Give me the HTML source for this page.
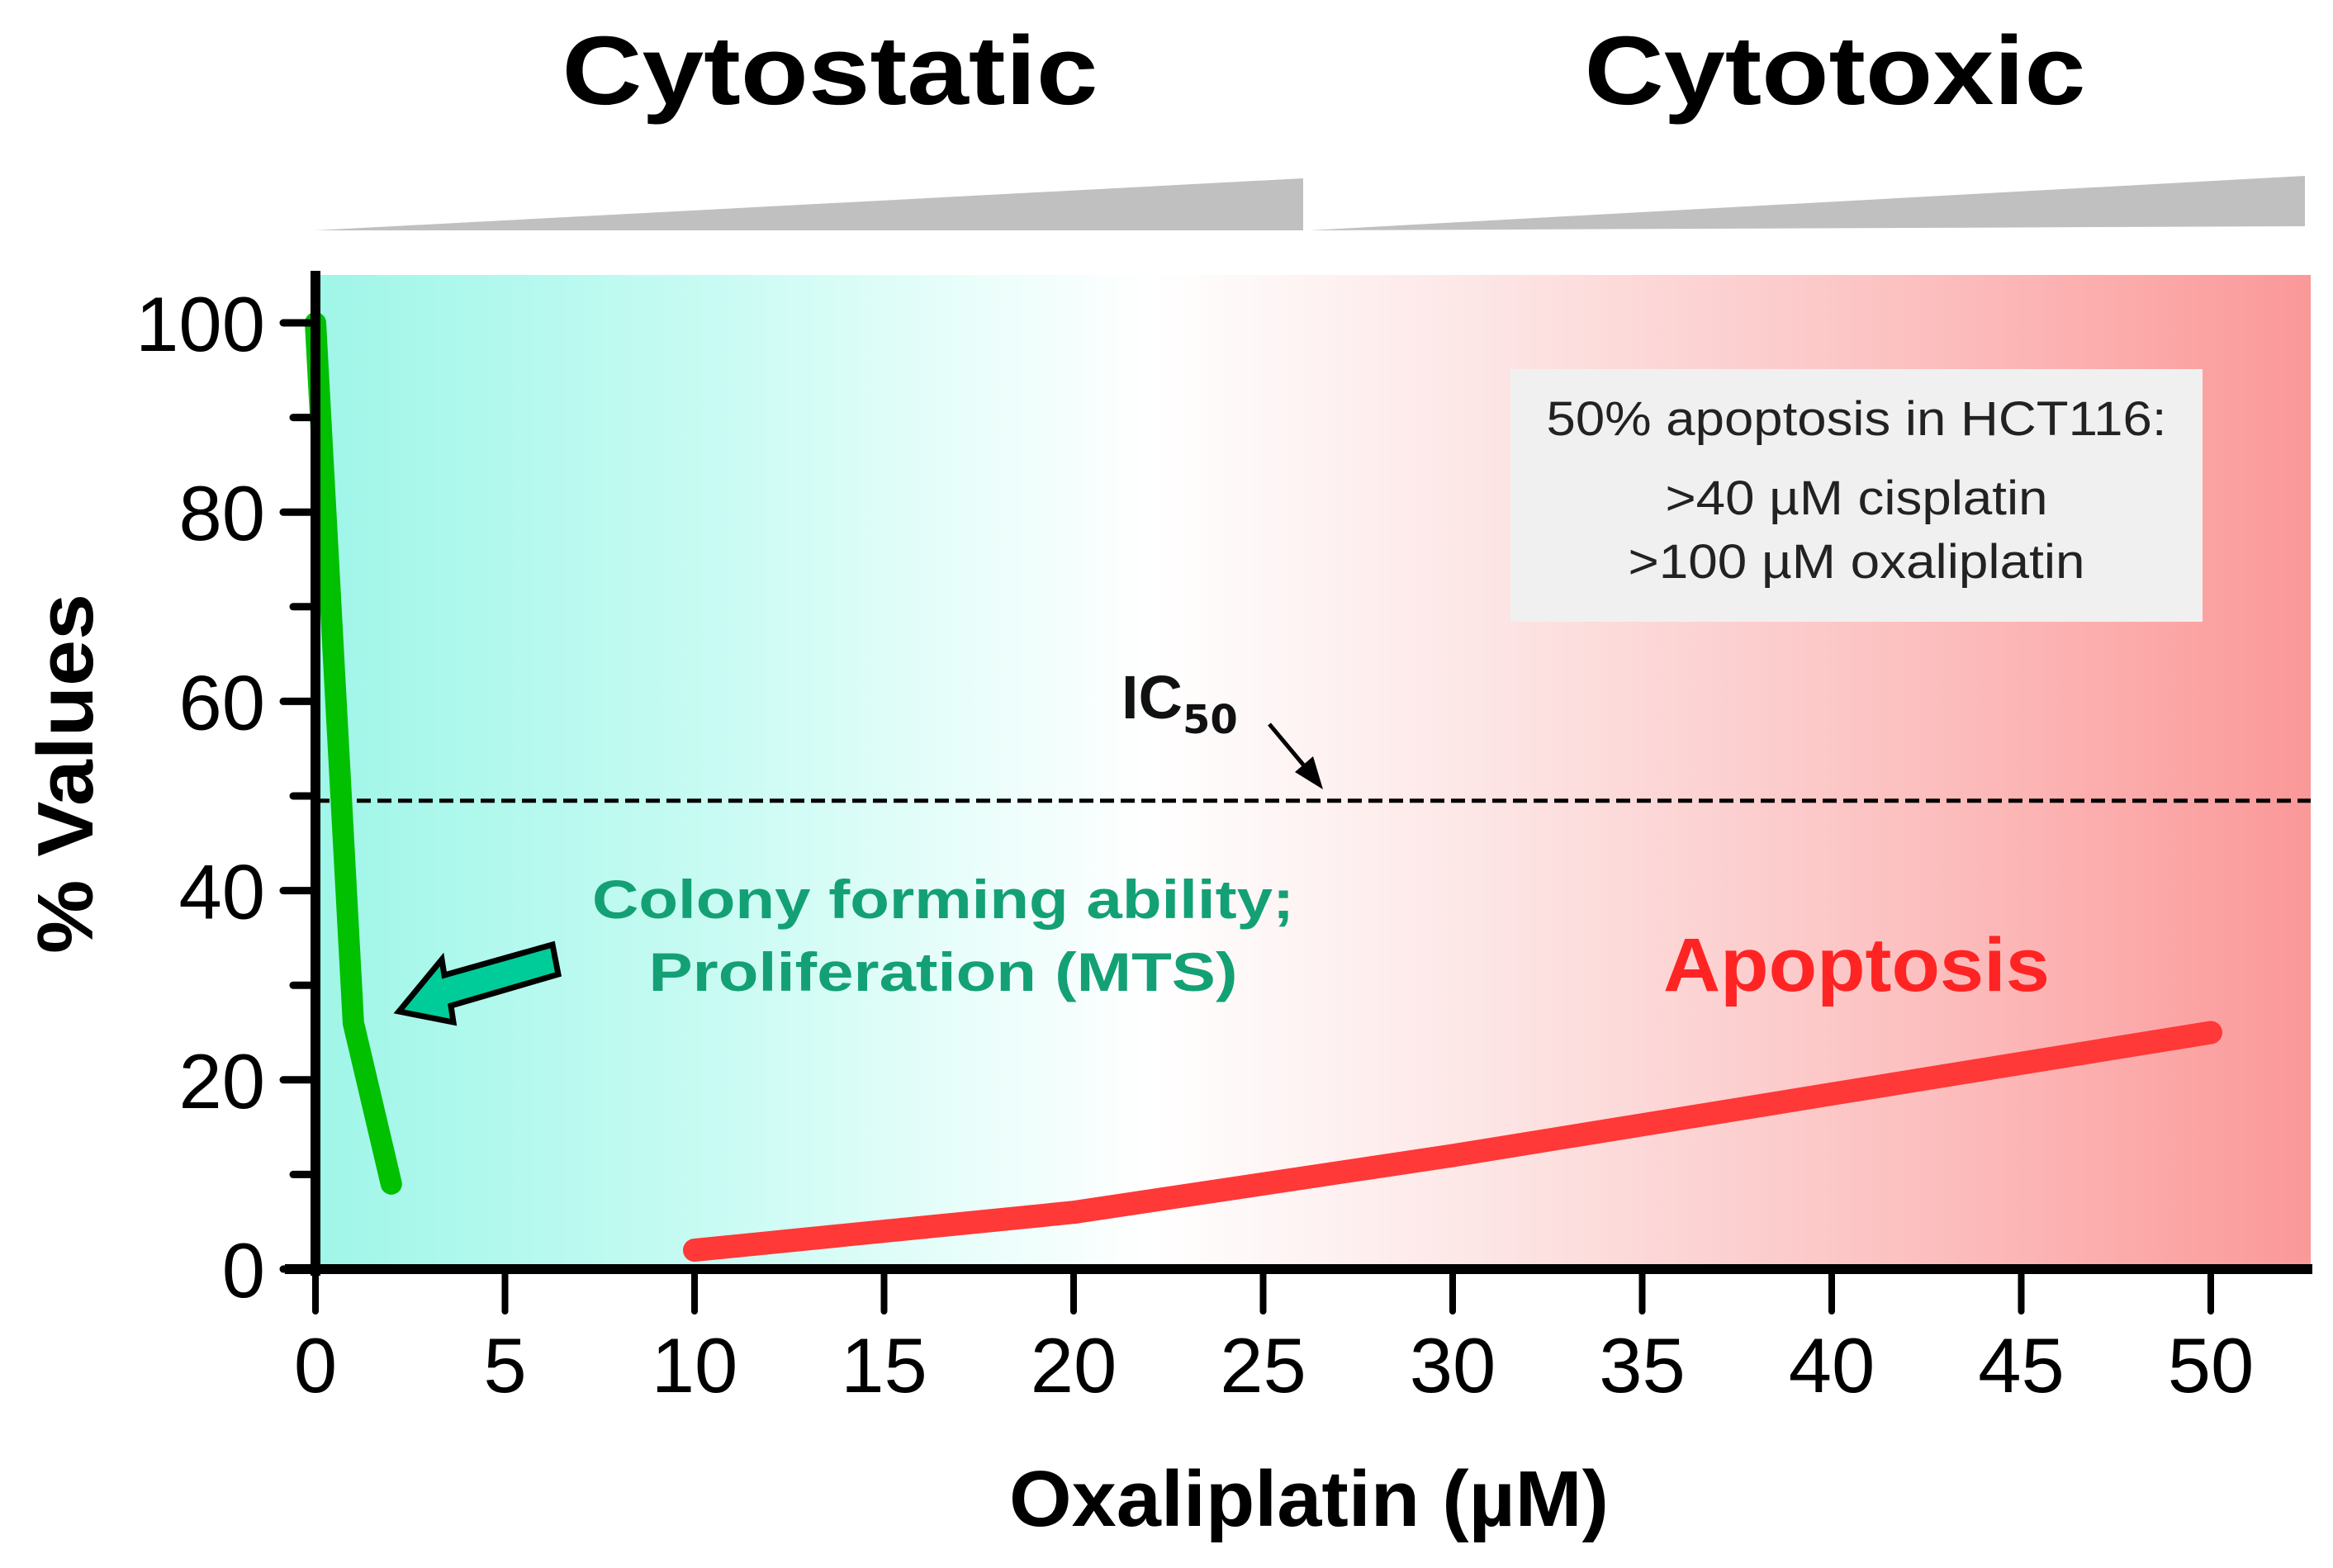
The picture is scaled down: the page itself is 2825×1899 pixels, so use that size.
<!DOCTYPE html>
<html><head><meta charset="utf-8"><style>
html,body{margin:0;padding:0;background:#fff;}
svg{display:block;}
text{font-family:"Liberation Sans",sans-serif;}
</style></head><body>
<svg id="chart" width="2825" height="1899" viewBox="0 0 2825 1899" xmlns="http://www.w3.org/2000/svg">
<defs>
<linearGradient id="bg" x1="0" x2="1" y1="0" y2="0">
<stop offset="0" stop-color="#9ff6e8"/>
<stop offset="0.2" stop-color="#c8fbf3"/>
<stop offset="0.34" stop-color="#ecfefb"/>
<stop offset="0.42" stop-color="#ffffff"/>
<stop offset="0.6" stop-color="#fde3e3"/>
<stop offset="0.8" stop-color="#fcc0c0"/>
<stop offset="1" stop-color="#fb9898"/>
</linearGradient>
</defs>
<rect x="382" y="333" width="2416" height="1204" fill="url(#bg)"/>
<text x="1005" y="126" text-anchor="middle" font-family="DejaVu Sans" font-weight="bold" font-size="118" textLength="649" lengthAdjust="spacingAndGlyphs">Cytostatic</text>
<text x="2222" y="126" text-anchor="middle" font-family="DejaVu Sans" font-weight="bold" font-size="118" textLength="607" lengthAdjust="spacingAndGlyphs">Cytotoxic</text>
<polygon points="382,279 1578,216 1578,279" fill="#c0c0c0"/>
<polygon points="1585,279 2791,213 2791,274" fill="#c0c0c0"/>
<rect x="1829" y="447" width="838" height="306" fill="#f0f0f0"/>
<text x="2248" y="527" text-anchor="middle" font-family="DejaVu Sans" font-size="58" fill="#222" textLength="751" lengthAdjust="spacingAndGlyphs">50% apoptosis in HCT116:</text>
<text x="2248" y="623" text-anchor="middle" font-family="DejaVu Sans" font-size="58" fill="#222" textLength="463" lengthAdjust="spacingAndGlyphs">&gt;40 µM cisplatin</text>
<text x="2248" y="700" text-anchor="middle" font-family="DejaVu Sans" font-size="58" fill="#222" textLength="553" lengthAdjust="spacingAndGlyphs">&gt;100 µM oxaliplatin</text>
<g id="marks"></g>
<text x="1358" y="870" font-family="Liberation Serif" font-weight="bold" font-size="74" fill="#111">IC<tspan font-family="DejaVu Sans" font-size="48" dy="18">50</tspan></text>
<line x1="1537" y1="877" x2="1588" y2="938" stroke="#000" stroke-width="5"/>
<polygon points="1602,956 1568,935 1590,916" fill="#000"/>
<polygon points="483,1225 535,1162 538,1181 669,1144 676,1180 546,1218 549,1238" fill="#00cc99" stroke="#000" stroke-width="7" stroke-linejoin="miter"/>
<text x="1142" y="1112" text-anchor="middle" font-family="DejaVu Sans" font-weight="bold" font-size="66" fill="#14a075" textLength="850" lengthAdjust="spacingAndGlyphs">Colony forming ability;</text>
<text x="1142" y="1200" text-anchor="middle" font-family="DejaVu Sans" font-weight="bold" font-size="66" fill="#14a075" textLength="713" lengthAdjust="spacingAndGlyphs">Proliferation (MTS)</text>
<text x="2248" y="1200" text-anchor="middle" font-family="DejaVu Sans" font-weight="bold" font-size="92" fill="#ff2424" textLength="468" lengthAdjust="spacingAndGlyphs">Apoptosis</text>
<text transform="translate(112,937) rotate(-90)" text-anchor="middle" font-weight="bold" font-size="96" textLength="436" lengthAdjust="spacingAndGlyphs">% Values</text>
<text x="1585" y="1848" text-anchor="middle" font-weight="bold" font-size="96" textLength="726" lengthAdjust="spacingAndGlyphs">Oxaliplatin (µM)</text>
</svg>
<script>
const xTicks = [0,5,10,15,20,25,30,35,40,45,50];
const yTicks = [0,20,40,60,80,100];
const yMinor = [10,30,50,70,90];
const greenX = [0,1,2];
const greenY = [100,26,9];
const redX = [10,20,30,40,50];
const redY = [2,6,12,18.5,25];
const ic50 = [49.5];

const NS='http://www.w3.org/2000/svg';
const X0=382, X1=2677, Y0=1537, Y1=391;
function sx(v){return X0+(X1-X0)*v/50;}
function sy(v){return Y0+(Y1-Y0)*v/100;}
const g=document.getElementById('marks');
function mk(tag,attrs,parent){const e=document.createElementNS(NS,tag);for(const k in attrs)e.setAttribute(k,attrs[k]);(parent||g).appendChild(e);return e;}

const dash=mk('line',{x1:X0,x2:2798,y1:sy(ic50[0]),y2:sy(ic50[0]),stroke:'#000','stroke-width':5,'stroke-dasharray':'17 8'});



const gp=mk('polyline',{points:greenX.map((v,i)=>sx(v)+','+sy(greenY[i])).join(' '),fill:'none',stroke:'#00c000','stroke-width':26,'stroke-linecap':'round','stroke-linejoin':'round'});



const rp=mk('polyline',{points:redX.map((v,i)=>sx(v)+','+sy(redY[i])).join(' '),fill:'none',stroke:'#ff3838','stroke-width':28,'stroke-linecap':'round','stroke-linejoin':'round'});



const ya=mk('line',{x1:X0,x2:X0,y1:328,y2:1545,stroke:'#000','stroke-width':12});


const xa=mk('line',{x1:345,x2:2800,y1:Y0,y2:Y0,stroke:'#000','stroke-width':12});



yTicks.forEach(v=>{
  const t=mk('line',{x1:343,x2:X0,y1:sy(v),y2:sy(v),stroke:'#000','stroke-width':9,'stroke-linecap':'round'});
  
  
  const l=mk('text',{x:321,y:sy(v)+34,'text-anchor':'end','font-size':94});
  l.textContent=v;
  
  
});
yMinor.forEach(v=>{
  const t=mk('line',{x1:355,x2:X0,y1:sy(v),y2:sy(v),stroke:'#000','stroke-width':9,'stroke-linecap':'round'});
  
  
});
xTicks.forEach(v=>{
  const t=mk('line',{x1:sx(v),x2:sx(v),y1:Y0,y2:1588,stroke:'#000','stroke-width':8,'stroke-linecap':'round'});
  
  
  const l=mk('text',{x:sx(v),y:1686,'text-anchor':'middle','font-size':94});
  l.textContent=v;
  
  
});
</script>
</body></html>
